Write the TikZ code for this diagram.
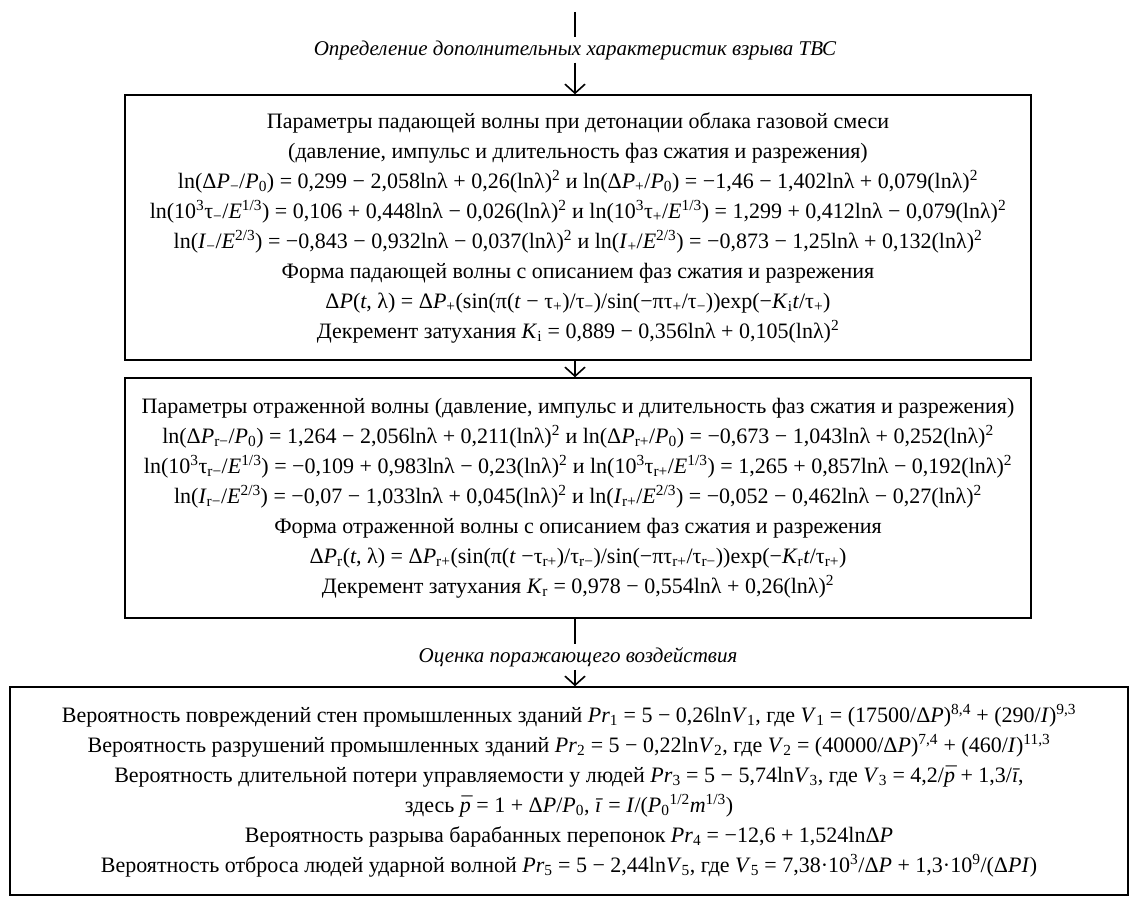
\documentclass[tikz,border=0pt]{standalone}
\usepackage{fontspec}
\setmainfont{Liberation Serif}
\usetikzlibrary{arrows.meta}
\newcommand\iv[1]{\textit{#1}}
\newcommand\sbx[1]{\textsubscript{#1}}
\newcommand\spx[1]{\textsuperscript{#1}}
\newcommand\pbar{\textit{\accent"AF p}}
\begin{document}
\begin{tikzpicture}[x=1pt,y=-1pt,
  box/.style={draw, line width=1.5pt, align=center, inner sep=0pt,
    font=\fontsize{22}{30}\selectfont},
  lbl/.style={font=\fontsize{21}{24}\selectfont\itshape, inner sep=3pt},
  conn/.style={line width=2.2pt},
  arr/.style={line width=1.6pt, -{Straight Barb[length=9pt,width=20pt]}}]
\useasboundingbox (0,0) rectangle (1132,899);

\coordinate (t0) at (575,12);
\node[lbl] (lab1) at (575,50) {Определение дополнительных характеристик взрыва ТВС};

\node[box, minimum width=906pt, minimum height=265pt] (b1) at (578,227.5) {%
Параметры падающей волны при детонации облака газовой смеси\\
(давление, импульс и длительность фаз сжатия и разрежения)\\
ln(Δ\iv{P}\sbx{−}/\iv{P}\sbx{0}) = 0,299 − 2,058lnλ + 0,26(lnλ)\spx{2} и ln(Δ\iv{P}\sbx{+}/\iv{P}\sbx{0}) = −1,46 − 1,402lnλ + 0,079(lnλ)\spx{2}\\
ln(10\spx{3}τ\sbx{−}/\iv{E}\spx{1/3}) = 0,106 + 0,448lnλ − 0,026(lnλ)\spx{2} и ln(10\spx{3}τ\sbx{+}/\iv{E}\spx{1/3}) = 1,299 + 0,412lnλ − 0,079(lnλ)\spx{2}\\
ln(\iv{I}\sbx{−}/\iv{E}\spx{2/3}) = −0,843 − 0,932lnλ − 0,037(lnλ)\spx{2} и ln(\iv{I}\sbx{+}/\iv{E}\spx{2/3}) = −0,873 − 1,25lnλ + 0,132(lnλ)\spx{2}\\
Форма падающей волны с описанием фаз сжатия и разрежения\\
Δ\iv{P}(\iv{t}, λ) = Δ\iv{P}\sbx{+}(sin(π(\iv{t} − τ\sbx{+})/τ\sbx{−})/sin(−πτ\sbx{+}/τ\sbx{−}))exp(−\iv{K}\sbx{i}\iv{t}/τ\sbx{+})\\
Декремент затухания \iv{K}\sbx{i} = 0,889 − 0,356lnλ + 0,105(lnλ)\spx{2}};

\node[box, minimum width=906pt, minimum height=240pt] (b2) at (578,498) {%
Параметры отраженной волны (давление, импульс и длительность фаз сжатия и разрежения)\\
ln(Δ\iv{P}\sbx{r−}/\iv{P}\sbx{0}) = 1,264 − 2,056lnλ + 0,211(lnλ)\spx{2} и ln(Δ\iv{P}\sbx{r+}/\iv{P}\sbx{0}) = −0,673 − 1,043lnλ + 0,252(lnλ)\spx{2}\\
ln(10\spx{3}τ\sbx{r−}/\iv{E}\spx{1/3}) = −0,109 + 0,983lnλ − 0,23(lnλ)\spx{2} и ln(10\spx{3}τ\sbx{r+}/\iv{E}\spx{1/3}) = 1,265 + 0,857lnλ − 0,192(lnλ)\spx{2}\\
ln(\iv{I}\sbx{r−}/\iv{E}\spx{2/3}) = −0,07 − 1,033lnλ + 0,045(lnλ)\spx{2} и ln(\iv{I}\sbx{r+}/\iv{E}\spx{2/3}) = −0,052 − 0,462lnλ − 0,27(lnλ)\spx{2}\\
Форма отраженной волны с описанием фаз сжатия и разрежения\\
Δ\iv{P}\sbx{r}(\iv{t}, λ) = Δ\iv{P}\sbx{r+}(sin(π(\iv{t} −τ\sbx{r+})/τ\sbx{r−})/sin(−πτ\sbx{r+}/τ\sbx{r−}))exp(−\iv{K}\sbx{r}\iv{t}/τ\sbx{r+})\\
Декремент затухания \iv{K}\sbx{r} = 0,978 − 0,554lnλ + 0,26(lnλ)\spx{2}};

\node[lbl] (lab2) at (578,657) {Оценка поражающего воздействия};

\node[box, minimum width=1118pt, minimum height=208pt] (b3) at (569,791) {%
Вероятность повреждений стен промышленных зданий \iv{Pr}\sbx{1} = 5 − 0,26ln\iv{V}\sbx{1}, где \iv{V}\sbx{1} = (17500/Δ\iv{P})\spx{8,4} + (290/\iv{I})\spx{9,3}\\
Вероятность разрушений промышленных зданий \iv{Pr}\sbx{2} = 5 − 0,22ln\iv{V}\sbx{2}, где \iv{V}\sbx{2} = (40000/Δ\iv{P})\spx{7,4} + (460/\iv{I})\spx{11,3}\\
Вероятность длительной потери управляемости у людей \iv{Pr}\sbx{3} = 5 − 5,74ln\iv{V}\sbx{3}, где \iv{V}\sbx{3} = 4,2/\pbar{} + 1,3/\iv{ī},\\
здесь \pbar{} = 1 + Δ\iv{P}/\iv{P}\sbx{0}, \iv{ī} = \iv{I}/(\iv{P}\sbx{0}\spx{1/2}\iv{m}\spx{1/3})\\
Вероятность разрыва барабанных перепонок \iv{Pr}\sbx{4} = −12,6 + 1,524lnΔ\iv{P}\\
Вероятность отброса людей ударной волной \iv{Pr}\sbx{5} = 5 − 2,44ln\iv{V}\sbx{5}, где \iv{V}\sbx{5} = 7,38·10\spx{3}/Δ\iv{P} + 1,3·10\spx{9}/(Δ\iv{PI})};

\draw[conn] (t0) -- (lab1.north);
\draw[arr] (lab1.south) -- (lab1.south |- b1.north);
\draw[arr] (b1.south -| lab1.south) -- (lab1.south |- b2.north);
\draw[conn] (b2.south -| lab1.south) -- (lab1.south |- lab2.north);
\draw[arr] (lab1.south |- lab2.south) -- (lab1.south |- b3.north);
\end{tikzpicture}
\end{document}
